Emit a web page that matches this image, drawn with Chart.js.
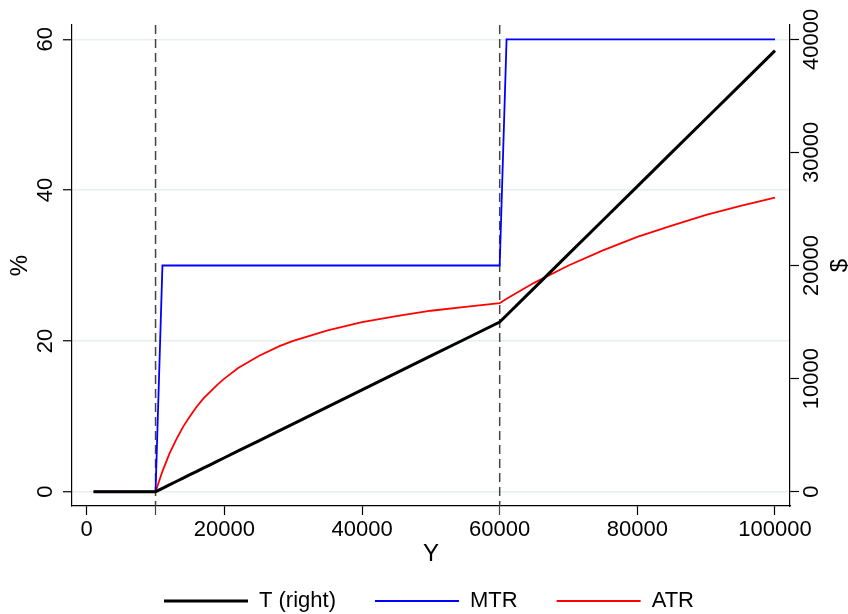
<!DOCTYPE html>
<html>
<head>
<meta charset="utf-8">
<script src="https://cdn.jsdelivr.net/npm/chart.js@4.4.0/dist/chart.umd.min.js"></script>
<style>
  html, body { margin: 0; padding: 0; background: #fff; }
  #chart { display: block; }
</style>
</head>
<body>
<canvas id="chart" width="848" height="614"></canvas>
<script>
// income grid (Y) and the three series
const income = [1000, 5000, 10000, 11000, 12000, 13000, 14000, 15000, 16000, 17000,
  18000, 19000, 20000, 22000, 25000, 28000, 30000, 35000, 40000, 45000, 50000, 55000,
  60000, 61000, 65000, 70000, 75000, 80000, 85000, 90000, 95000, 100000];
const tax = [0, 0, 0, 300, 600, 900, 1200, 1500, 1800, 2100,
  2400, 2700, 3000, 3600, 4500, 5400, 6000, 7500, 9000, 10500, 12000, 13500,
  15000, 15600, 18000, 21000, 24000, 27000, 30000, 33000, 36000, 39000];
const mtr = [0, 0, 0, 30, 30, 30, 30, 30, 30, 30,
  30, 30, 30, 30, 30, 30, 30, 30, 30, 30, 30, 30,
  30, 60, 60, 60, 60, 60, 60, 60, 60, 60];
const atr = [0, 0, 0, 2.7, 5.0, 6.9, 8.6, 10.0, 11.3, 12.4,
  13.3, 14.2, 15.0, 16.4, 18.0, 19.3, 20.0, 21.4, 22.5, 23.3, 24.0, 24.5,
  25.0, 25.6, 27.7, 30.0, 32.0, 33.8, 35.3, 36.7, 37.9, 39.0];

// axes
const xTicks = [0, 20000, 40000, 60000, 80000, 100000];
const xLines = [10000, 60000];      // dashed reference lines (also get a bare tick)
const pctTicks = [0, 20, 40, 60];
const dollarTicks = [0, 10000, 20000, 30000, 40000];

const toPoints = ys => ys.map((y, i) => ({ x: income[i], y: y }));

Chart.defaults.font.family = "'Liberation Sans', Arial, sans-serif";
Chart.defaults.color = '#000';

const xLinePlugin = {
  id: 'xlines',
  beforeDatasetsDraw(chart) {
    const { ctx, chartArea, scales } = chart;
    ctx.save();
    ctx.strokeStyle = '#444';
    ctx.lineWidth = 1.5;
    ctx.setLineDash([9, 5]);
    xLines.forEach(v => {
      const px = scales.x.getPixelForValue(v);
      ctx.beginPath();
      ctx.moveTo(px, chartArea.top);
      ctx.lineTo(px, chartArea.bottom);
      ctx.stroke();
    });
    ctx.restore();
  }
};

// right axis title, turned the same way as the left one
const rightTitlePlugin = {
  id: 'rightTitle',
  afterDraw(chart) {
    const { ctx, chartArea, scales } = chart;
    ctx.save();
    ctx.translate(scales.yRight.right - 8, (chartArea.top + chartArea.bottom) / 2);
    ctx.rotate(-Math.PI / 2);
    ctx.font = "24px 'Liberation Sans', Arial, sans-serif";
    ctx.fillStyle = '#000';
    ctx.textAlign = 'center';
    ctx.textBaseline = 'middle';
    ctx.fillText('$', 0, 0);
    ctx.restore();
  }
};

new Chart(document.getElementById('chart'), {
  type: 'line',
  data: {
    datasets: [{
      label: 'T (right)',
      data: toPoints(tax),
      yAxisID: 'yRight',
      borderColor: '#000',
      borderWidth: 3
    }, {
      label: 'MTR',
      data: toPoints(mtr),
      yAxisID: 'y',
      borderColor: '#0000ff',
      borderWidth: 1.8
    }, {
      label: 'ATR',
      data: toPoints(atr),
      yAxisID: 'y',
      borderColor: '#ff0000',
      borderWidth: 1.8
    }]
  },
  options: {
    responsive: false,
    animation: false,
    elements: { point: { radius: 0 }, line: { tension: 0, fill: false } },
    layout: { padding: { top: 25, left: 10, right: 0, bottom: -8 } },
    plugins: {
      tooltip: { enabled: false },
      legend: {
        position: 'bottom',
        labels: {
          usePointStyle: true,
          pointStyle: 'line',
          pointStyleWidth: 84,
          padding: 39,
          font: { size: 22 },
          color: '#000'
        }
      }
    },
    scales: {
      x: {
        type: 'linear',
        min: -2140,
        max: 102180,
        afterBuildTicks: s => {
          const vals = xTicks.concat(xLines.filter(v => !xTicks.includes(v)));
          s.ticks = vals.sort((a, b) => a - b).map(v => ({ value: v }));
        },
        afterFit: s => { s.height = 45; },
        grid: {
          drawOnChartArea: false,
          tickLength: 9,
          tickWidth: 1.2,
          tickColor: c => (c.tick && xLines.includes(c.tick.value)) ? '#444' : '#000'
        },
        border: { color: '#000', width: 1.2 },
        ticks: {
          padding: 2,
          autoSkip: false,
          maxRotation: 0,
          font: { size: 22, lineHeight: 1.2 },
          callback: v => xTicks.includes(v) ? String(v) : ''
        },
        title: {
          display: true,
          text: 'Y',
          font: { size: 24, lineHeight: 1 },
          padding: { top: 0, bottom: -15 }
        }
      },
      y: {
        position: 'left',
        min: -1.9,
        max: 61.9,
        afterBuildTicks: s => { s.ticks = pctTicks.map(v => ({ value: v })); },
        afterFit: s => { s.width = 62; },
        grid: {
          color: '#e6eef0',
          lineWidth: 1.5,
          tickLength: 9,
          tickWidth: 1.2,
          tickColor: '#000'
        },
        border: { color: '#000', width: 1.2 },
        ticks: {
          minRotation: 90,
          maxRotation: 90,
          crossAlign: 'center',
          padding: 5,
          autoSkip: false,
          font: { size: 22 },
          callback: v => String(v)
        },
        title: {
          display: true,
          text: '%',
          font: { size: 24, lineHeight: 1 },
          padding: { top: -2, bottom: 0 }
        }
      },
      yRight: {
        position: 'right',
        min: -1266.7,
        max: 41266.7,
        afterBuildTicks: s => { s.ticks = dollarTicks.map(v => ({ value: v })); },
        afterFit: s => { s.width = 58; },
        grid: {
          drawOnChartArea: false,
          tickLength: 9,
          tickWidth: 1.2,
          tickColor: '#000'
        },
        border: { color: '#000', width: 1.2 },
        ticks: {
          minRotation: 90,
          maxRotation: 90,
          crossAlign: 'center',
          padding: -18,
          autoSkip: false,
          font: { size: 22 },
          callback: v => String(v)
        },
        title: { display: false }
      }
    }
  },
  plugins: [xLinePlugin, rightTitlePlugin]
});
</script>
</body>
</html>
